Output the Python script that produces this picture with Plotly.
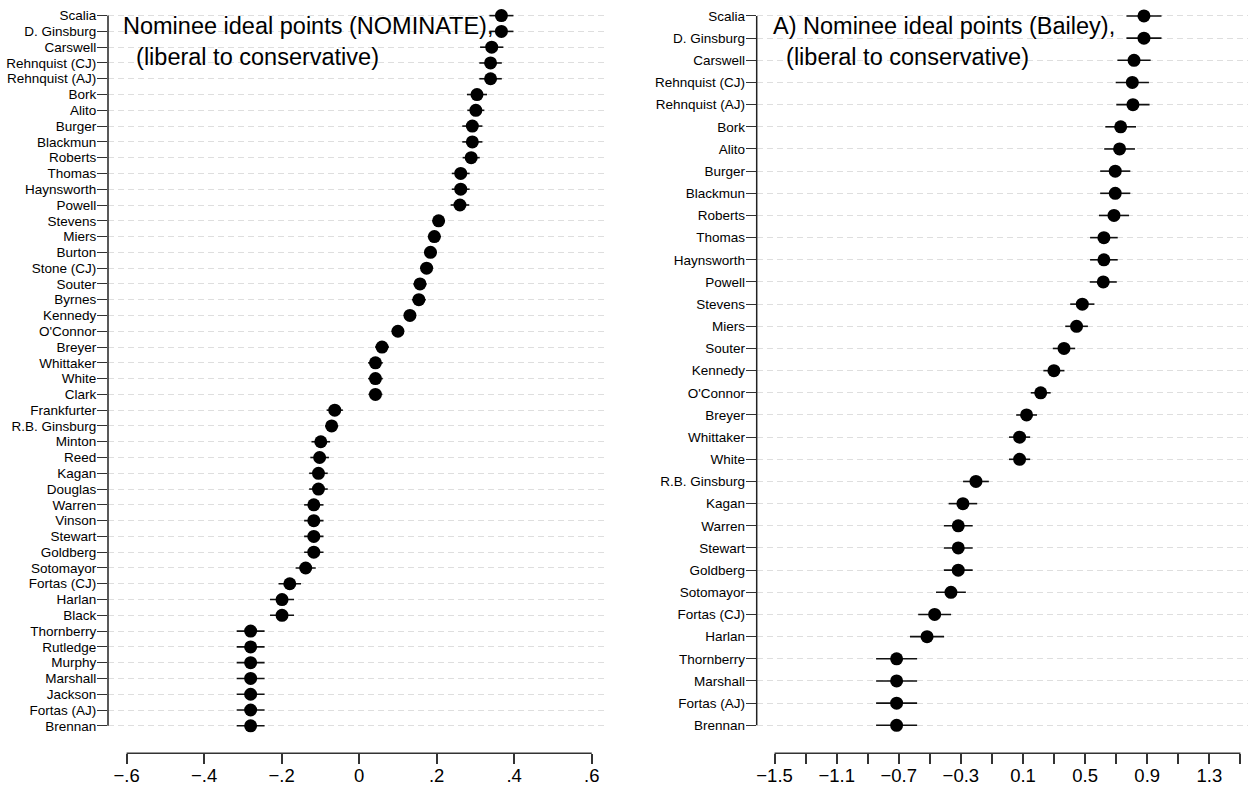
import plotly.graph_objects as go

# ---------------- data ----------------
nom_names = ["Scalia", "D. Ginsburg", "Carswell", "Rehnquist (CJ)", "Rehnquist (AJ)", "Bork", "Alito",
             "Burger", "Blackmun", "Roberts", "Thomas", "Haynsworth", "Powell", "Stevens", "Miers",
             "Burton", "Stone (CJ)", "Souter", "Byrnes", "Kennedy", "O'Connor", "Breyer", "Whittaker",
             "White", "Clark", "Frankfurter", "R.B. Ginsburg", "Minton", "Reed", "Kagan", "Douglas",
             "Warren", "Vinson", "Stewart", "Goldberg", "Sotomayor", "Fortas (CJ)", "Harlan", "Black",
             "Thornberry", "Rutledge", "Murphy", "Marshall", "Jackson", "Fortas (AJ)", "Brennan"]
nom_vals = [0.367, 0.367, 0.342, 0.339, 0.339, 0.304, 0.301, 0.292, 0.292, 0.289, 0.262, 0.262, 0.260,
            0.205, 0.194, 0.184, 0.174, 0.157, 0.154, 0.131, 0.100, 0.059, 0.042, 0.042, 0.042,
            -0.063, -0.071, -0.099, -0.102, -0.105, -0.105, -0.117, -0.117, -0.117, -0.117, -0.138,
            -0.179, -0.199, -0.199, -0.280, -0.280, -0.280, -0.280, -0.280, -0.280, -0.280]
nom_err = [0.031, 0.031, 0.030, 0.029, 0.029, 0.026, 0.022, 0.026, 0.026, 0.022, 0.023, 0.023, 0.024,
           0.016, 0.017, 0.016, 0.017, 0.017, 0.018, 0.016, 0.016, 0.018, 0.019, 0.019, 0.018,
           0.021, 0.017, 0.024, 0.024, 0.024, 0.024, 0.025, 0.025, 0.025, 0.025, 0.026,
           0.029, 0.031, 0.031, 0.036, 0.036, 0.036, 0.036, 0.036, 0.036, 0.036]

bai_names = ["Scalia", "D. Ginsburg", "Carswell", "Rehnquist (CJ)", "Rehnquist (AJ)", "Bork", "Alito",
             "Burger", "Blackmun", "Roberts", "Thomas", "Haynsworth", "Powell", "Stevens", "Miers",
             "Souter", "Kennedy", "O'Connor", "Breyer", "Whittaker", "White", "R.B. Ginsburg", "Kagan",
             "Warren", "Stewart", "Goldberg", "Sotomayor", "Fortas (CJ)", "Harlan", "Thornberry",
             "Marshall", "Fortas (AJ)", "Brennan"]
bai_vals = [0.879, 0.879, 0.815, 0.804, 0.808, 0.729, 0.722, 0.694, 0.694, 0.686, 0.621, 0.621, 0.617,
            0.482, 0.445, 0.364, 0.299, 0.214, 0.123, 0.078, 0.078, -0.203, -0.287, -0.317, -0.317,
            -0.317, -0.364, -0.469, -0.518, -0.714, -0.714, -0.714, -0.714]
bai_err = [0.113, 0.113, 0.107, 0.107, 0.107, 0.099, 0.099, 0.097, 0.097, 0.097, 0.089, 0.089, 0.087,
           0.078, 0.073, 0.072, 0.068, 0.064, 0.067, 0.068, 0.068, 0.083, 0.092, 0.093, 0.093,
           0.093, 0.096, 0.106, 0.110, 0.132, 0.132, 0.132, 0.132]

nom_tickvals = [-0.6, -0.4, -0.2, 0, 0.2, 0.4, 0.6]
nom_ticktext = ["\u2212.6", "\u2212.4", "\u2212.2", "0", ".2", ".4", ".6"]
bai_tickvals = [-1.5, -1.3, -1.1, -0.9, -0.7, -0.5, -0.3, -0.1, 0.1, 0.3, 0.5, 0.7, 0.9, 1.1, 1.3, 1.5]
bai_ticktext = ["\u22121.5", "", "\u22121.1", "", "\u22120.7", "", "\u22120.3", "", "0.1", "", "0.5", "",
                "0.9", "", "1.3", ""]

title_left = "Nominee ideal points (NOMINATE),<br>&nbsp;&nbsp;(liberal to conservative)"
title_right = "A) Nominee ideal points (Bailey),<br>&nbsp;&nbsp;(liberal to conservative)"

# ---------------- layout constants ----------------
W, H = 1248, 787
FONT = "Liberation Sans, Arial, Helvetica, sans-serif"
AX = "#333333"
y_bottom = 1 - 753.3 / H

fig = go.Figure()

fig.add_trace(go.Scatter(
    x=nom_vals, y=nom_names, mode="markers",
    marker=dict(size=13, color="black"),
    error_x=dict(type="data", array=nom_err, symmetric=True, width=0, thickness=1.6, color="#111111"),
    xaxis="x", yaxis="y", showlegend=False, hoverinfo="x+y"))

fig.add_trace(go.Scatter(
    x=bai_vals, y=bai_names, mode="markers",
    marker=dict(size=13, color="black"),
    error_x=dict(type="data", array=bai_err, symmetric=True, width=0, thickness=1.6, color="#111111"),
    xaxis="x2", yaxis="y2", showlegend=False, hoverinfo="x+y"))

common_x = dict(showline=False, showgrid=False, zeroline=False, ticks="outside", ticklen=10,
                tickwidth=1.5, tickcolor=AX, tickfont=dict(family=FONT, size=18.5, color="black"),
                ticklabelstandoff=-5, automargin=False, fixedrange=True)
common_y = dict(type="category", categoryorder="array", showline=False, zeroline=False,
                showgrid=True, gridcolor="#dedede", gridwidth=1, griddash="6px,4px",
                ticks="outside", ticklen=10, tickwidth=1.3, tickcolor=AX, tickmode="array",
                ticklabelstandoff=-2,
                tickfont=dict(family=FONT, size=13.5, color="black"), automargin=False, fixedrange=True)

fig.update_layout(
    width=W, height=H, autosize=False,
    margin=dict(l=0, r=0, t=0, b=0),
    paper_bgcolor="white", plot_bgcolor="white",
    template="none",
    font=dict(family=FONT, color="black"),
    xaxis=dict(domain=[108 / W, 608 / W], range=[-0.648, 0.642], anchor="y",
               tickvals=nom_tickvals, ticktext=nom_ticktext, **common_x),
    yaxis=dict(domain=[y_bottom, 1], anchor="x", categoryarray=nom_names[::-1],
               tickvals=nom_names, ticktext=nom_names,
               range=[-1.743, 45.99], **common_y),
    xaxis2=dict(domain=[756.7 / W, 1], range=[-1.615, 1.549], anchor="y2",
                tickvals=bai_tickvals, ticktext=bai_ticktext, **common_x),
    yaxis2=dict(domain=[y_bottom, 1], anchor="x2", categoryarray=bai_names[::-1],
                tickvals=bai_names, ticktext=bai_names,
                range=[-1.263, 32.72], **common_y),
)

shapes = [
    # x-axis lines spanning only the labelled range (Stata style)
    dict(type="line", xref="x", yref="y domain", x0=nom_tickvals[0], x1=nom_tickvals[-1], y0=0, y1=0,
         line=dict(color=AX, width=1.5), layer="above"),
    dict(type="line", xref="x2", yref="y2 domain", x0=bai_tickvals[0], x1=bai_tickvals[-1], y0=0, y1=0,
         line=dict(color=AX, width=1.5), layer="above"),
    # y-axis lines spanning first to last category
    dict(type="line", xref="x domain", yref="y", x0=0, x1=0, y0=0, y1=len(nom_names) - 1,
         line=dict(color="#222222", width=1.5), layer="above"),
    dict(type="line", xref="x2 domain", yref="y2", x0=0, x1=0, y0=0, y1=len(bai_names) - 1,
         line=dict(color="#222222", width=1.5), layer="above"),
]
fig.update_layout(shapes=shapes)

fig.add_annotation(x=121 / W, y=1 - 11 / H, xref="paper", yref="paper", xanchor="left", yanchor="top",
                   text=title_left, showarrow=False, align="left",
                   font=dict(family=FONT, size=23.5, color="black"))
fig.add_annotation(x=770.5 / W, y=1 - 11 / H, xref="paper", yref="paper", xanchor="left", yanchor="top",
                   text=title_right, showarrow=False, align="left",
                   font=dict(family=FONT, size=23.5, color="black"))

fig.write_html("out.html")
